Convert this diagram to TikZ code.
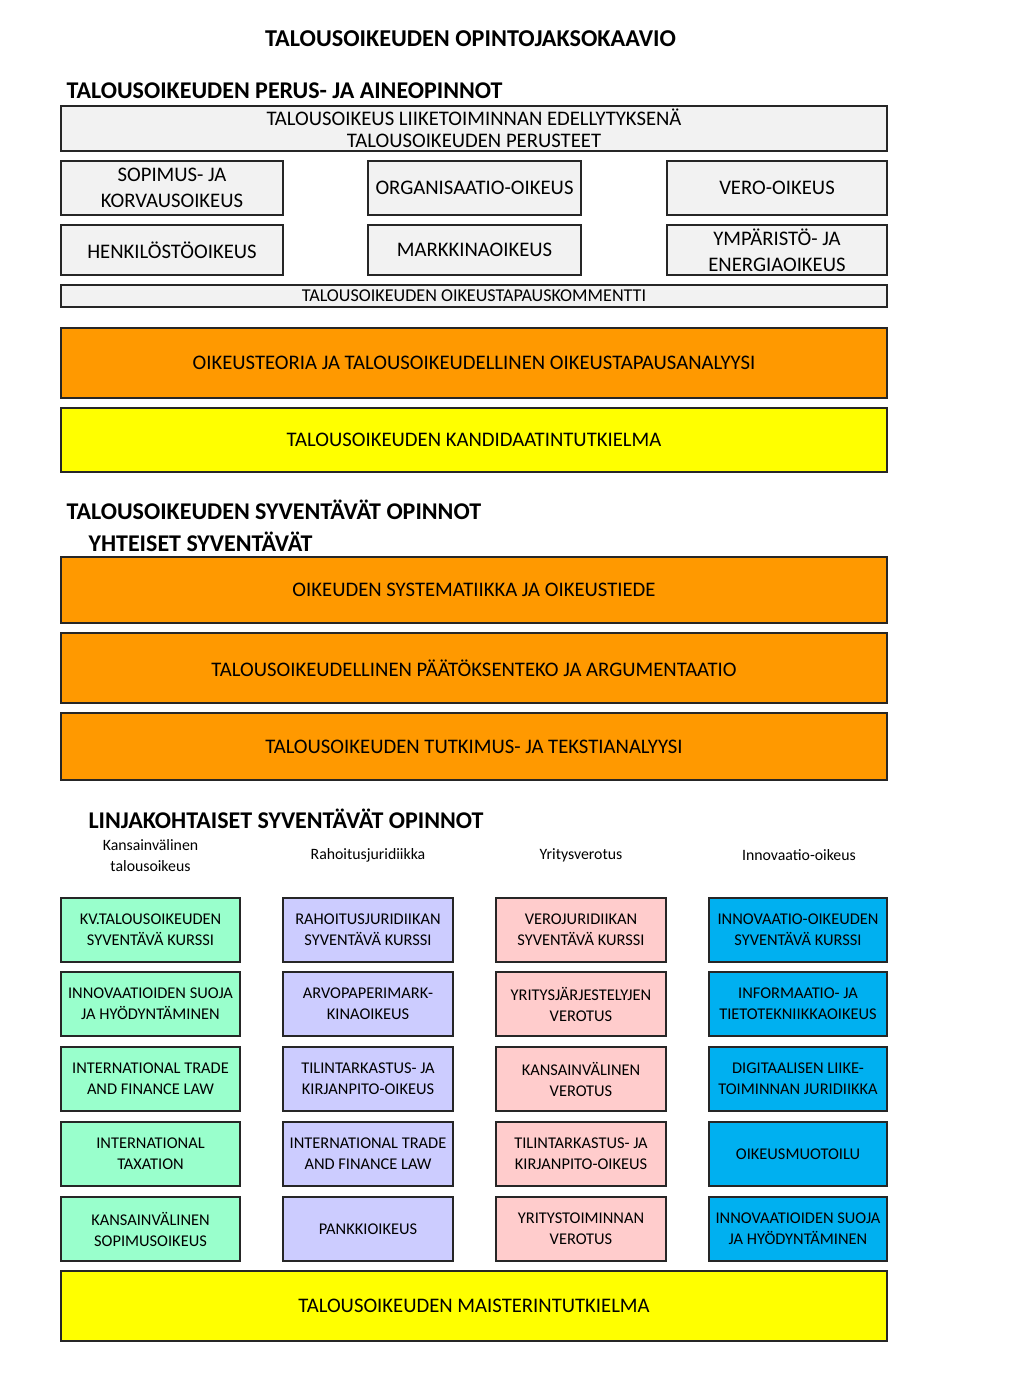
\documentclass[tikz,border=0pt]{standalone}
\usepackage{fontspec}
\setmainfont{Carlito}
\usetikzlibrary{positioning}
\definecolor{harmaa}{RGB}{242,242,242}
\definecolor{oranssi}{RGB}{255,153,0}
\definecolor{keltainen}{RGB}{255,255,0}
\definecolor{vihrea}{RGB}{153,255,204}
\definecolor{violetti}{RGB}{204,204,255}
\definecolor{roosa}{RGB}{255,204,204}
\definecolor{sininen}{RGB}{0,176,240}

\begin{document}
\begin{tikzpicture}[
    x=1pt, y=-1pt,
    laatikko/.style={draw=black!85, line width=1.6pt, inner sep=0pt, align=center, text=black, font=\fontsize{20.7}{22}\selectfont},
    perus/.style={laatikko, fill=harmaa},
    leveä/.style={laatikko, minimum width=826pt},
    linja/.style={laatikko, font=\fontsize{16.4}{21}\selectfont, minimum height=64pt},
    otsikko/.style={anchor=west, font=\fontsize{24}{26}\selectfont\bfseries, text=black},
    linjaotsikko/.style={align=center, font=\fontsize{15.8}{21}\selectfont, text=black},
]
\useasboundingbox (0,0) rectangle (1024,1385);

% Otsikot
\node[font=\fontsize{24.2}{26}\selectfont\bfseries] (paaotsikko) at (470.5,39) {TALOUSOIKEUDEN OPINTOJAKSOKAAVIO};
\node[otsikko] (perusotsikko) at (63,91) {TALOUSOIKEUDEN PERUS- JA AINEOPINNOT};

% Perus- ja aineopinnot
\node[perus, leveä, minimum height=45pt] (johdanto) at (474,128.5) {TALOUSOIKEUS LIIKETOIMINNAN EDELLYTYKSENÄ\\TALOUSOIKEUDEN PERUSTEET};
\node[perus, minimum width=222pt, minimum height=54pt, font=\fontsize{20.7}{26}\selectfont] (sopimus) at (172,188) {SOPIMUS- JA\\KORVAUSOIKEUS};
\node[perus, minimum width=213pt, minimum height=54pt] (organisaatio) at (474.5,188) {ORGANISAATIO-OIKEUS};
\node[perus, minimum width=220pt, minimum height=54pt] (vero) at (777,188) {VERO-OIKEUS};
\node[perus, minimum width=222pt, minimum height=50pt] (henkilosto) at (172,250) {HENKILÖSTÖOIKEUS};
\node[perus, minimum width=213pt, minimum height=50pt] (markkina) at (474.5,250) {MARKKINAOIKEUS};
\node[perus, minimum width=220pt, minimum height=50pt, font=\fontsize{20.7}{26}\selectfont] (ymparisto) at (777,250) {YMPÄRISTÖ- JA\\ENERGIAOIKEUS};
\node[perus, leveä, minimum height=22pt, font=\fontsize{18.1}{19}\selectfont] (kommentti) at (474,296) {TALOUSOIKEUDEN OIKEUSTAPAUSKOMMENTTI};
\node[laatikko, leveä, fill=oranssi, minimum height=70pt] (teoria) at (474,363) {OIKEUSTEORIA JA TALOUSOIKEUDELLINEN OIKEUSTAPAUSANALYYSI};
\node[laatikko, leveä, fill=keltainen, minimum height=64pt] (kandi) at (474,440) {TALOUSOIKEUDEN KANDIDAATINTUTKIELMA};

% Syventävät opinnot
\node[otsikko] (syvotsikko) at (63,510) {TALOUSOIKEUDEN SYVENTÄVÄT OPINNOT};
\node[otsikko] (yhtotsikko) at (85,542) {YHTEISET SYVENTÄVÄT};
\node[laatikko, leveä, fill=oranssi, minimum height=66pt] (systematiikka) at (474,590) {OIKEUDEN SYSTEMATIIKKA JA OIKEUSTIEDE};
\node[laatikko, leveä, fill=oranssi, minimum height=70pt] (paatoksenteko) at (474,668) {TALOUSOIKEUDELLINEN PÄÄTÖKSENTEKO JA ARGUMENTAATIO};
\node[laatikko, leveä, fill=oranssi, minimum height=67pt] (tutkimus) at (474,746.5) {TALOUSOIKEUDEN TUTKIMUS- JA TEKSTIANALYYSI};

% Linjakohtaiset
\node[otsikko] (linjaotsikko) at (85,819) {LINJAKOHTAISET SYVENTÄVÄT OPINNOT};
\node[linjaotsikko] (kvotsikko) at (150.5,855.5) {Kansainvälinen\\talousoikeus};
\node[linjaotsikko] (rahotsikko) at (368,855) {Rahoitusjuridiikka};
\node[linjaotsikko] (yritotsikko) at (581,855) {Yritysverotus};
\node[linjaotsikko] (innotsikko) at (799,855) {Innovaatio-oikeus};

\foreach \y/\teksti [count=\n] in {930/{KV.TALOUSOIKEUDEN\\SYVENTÄVÄ KURSSI}, 1004/{INNOVAATIOIDEN SUOJA\\JA HYÖDYNTÄMINEN}, 1079/{INTERNATIONAL TRADE\\AND FINANCE LAW}, 1154/{INTERNATIONAL\\TAXATION}, 1229/{KANSAINVÄLINEN\\SOPIMUSOIKEUS}}
  \node[linja, fill=vihrea, minimum width=179pt] (kv\n) at (150.5,\y) {\teksti};
\foreach \y/\teksti [count=\n] in {930/{RAHOITUSJURIDIIKAN\\SYVENTÄVÄ KURSSI}, 1004/{ARVOPAPERIMARK-\\KINAOIKEUS}, 1079/{TILINTARKASTUS- JA\\KIRJANPITO-OIKEUS}, 1154/{INTERNATIONAL TRADE\\AND FINANCE LAW}, 1229/{PANKKIOIKEUS}}
  \node[linja, fill=violetti, minimum width=170pt] (rah\n) at (368,\y) {\teksti};
\foreach \y/\teksti [count=\n] in {930/{VEROJURIDIIKAN\\SYVENTÄVÄ KURSSI}, 1004/{YRITYSJÄRJESTELYJEN\\VEROTUS}, 1079/{KANSAINVÄLINEN\\VEROTUS}, 1154/{TILINTARKASTUS- JA\\KIRJANPITO-OIKEUS}, 1229/{YRITYSTOIMINNAN\\VEROTUS}}
  \node[linja, fill=roosa, minimum width=170pt] (yv\n) at (581,\y) {\teksti};
\foreach \y/\teksti [count=\n] in {930/{INNOVAATIO-OIKEUDEN\\SYVENTÄVÄ KURSSI}, 1004/{INFORMAATIO- JA\\TIETOTEKNIIKKAOIKEUS}, 1079/{DIGITAALISEN LIIKE-\\TOIMINNAN JURIDIIKKA}, 1154/{OIKEUSMUOTOILU}, 1229/{INNOVAATIOIDEN SUOJA\\JA HYÖDYNTÄMINEN}}
  \node[linja, fill=sininen, minimum width=178pt] (inn\n) at (798,\y) {\teksti};

\node[laatikko, leveä, fill=keltainen, minimum height=70pt] (maisteri) at (474,1306) {TALOUSOIKEUDEN MAISTERINTUTKIELMA};
\end{tikzpicture}
\end{document}
